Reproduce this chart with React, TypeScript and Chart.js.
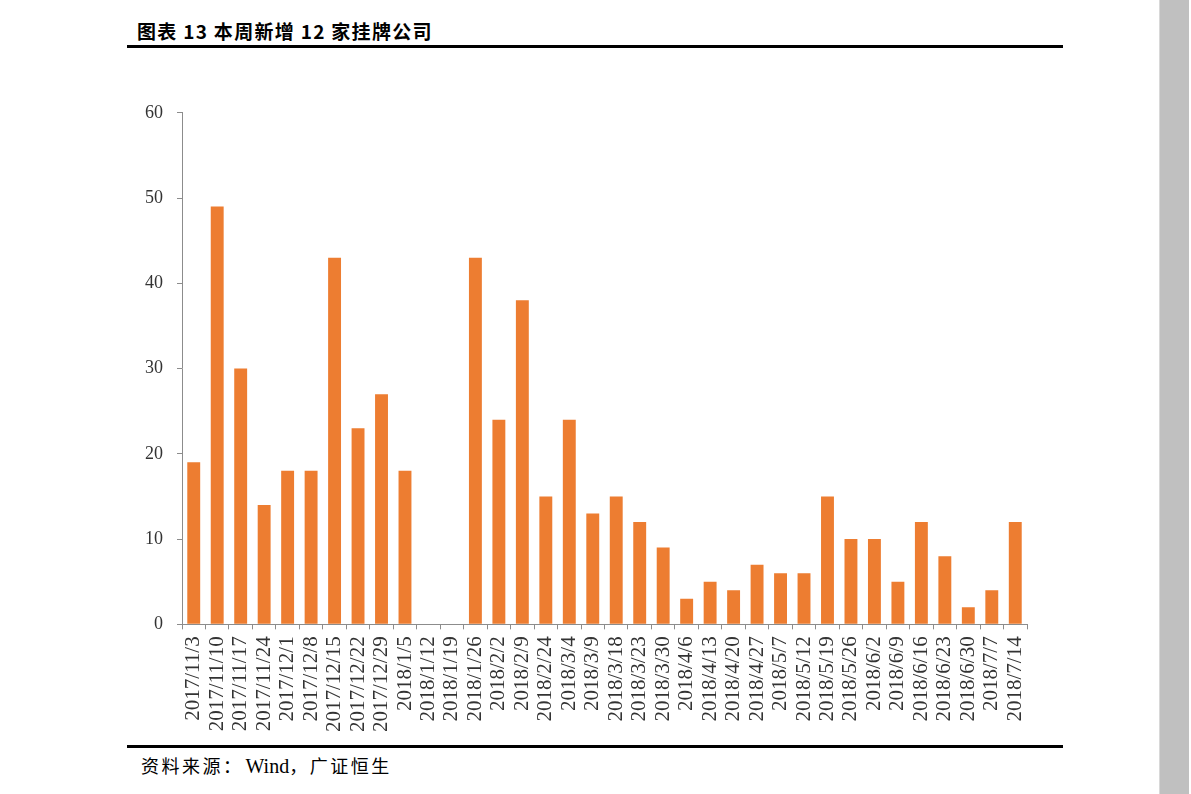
import React, { useEffect, useRef } from "react";
import { Chart, registerables } from "chart.js";

Chart.register(...registerables);

const categories = [
  "2017/11/3", "2017/11/10", "2017/11/17", "2017/11/24", "2017/12/1", "2017/12/8",
  "2017/12/15", "2017/12/22", "2017/12/29", "2018/1/5", "2018/1/12", "2018/1/19",
  "2018/1/26", "2018/2/2", "2018/2/9", "2018/2/24", "2018/3/4", "2018/3/9",
  "2018/3/18", "2018/3/23", "2018/3/30", "2018/4/6", "2018/4/13", "2018/4/20",
  "2018/4/27", "2018/5/7", "2018/5/12", "2018/5/19", "2018/5/26", "2018/6/2",
  "2018/6/9", "2018/6/16", "2018/6/23", "2018/6/30", "2018/7/7", "2018/7/14",
];

const newListings = [
  19, 49, 30, 14, 18, 18, 43, 23, 27, 18, 0, 0,
  43, 24, 38, 15, 24, 13, 15, 12, 9, 3, 5, 4,
  7, 6, 6, 15, 10, 10, 5, 12, 8, 2, 4, 12,
];

const yTicks = [0, 10, 20, 30, 40, 50, 60];

const title = "图表 13 本周新增 12 家挂牌公司";
const sourcePrefix = "资料来源：";
const sourceWind = "Wind";
const sourceSuffix = "，广证恒生";

export default function App() {
  const ref = useRef<HTMLCanvasElement | null>(null);

  useEffect(() => {
    if (!ref.current) return;
    const axisColor = "#8c8c8c";
    const chart = new Chart(ref.current, {
      type: "bar",
      data: {
        labels: categories,
        datasets: [
          {
            data: newListings,
            backgroundColor: "#ED7D31",
            borderWidth: 0,
            barPercentage: 0.55,
            categoryPercentage: 1,
          },
        ],
      },
      options: {
        animation: false,
        responsive: false,
        maintainAspectRatio: false,
        layout: { padding: { left: 1, right: 33, top: 3, bottom: 2 } },
        plugins: { legend: { display: false }, tooltip: { enabled: false } },
        scales: {
          x: {
            grid: {
              display: true,
              drawOnChartArea: false,
              drawTicks: true,
              tickLength: 5,
              color: axisColor,
              offset: true,
            },
            border: { display: true, color: axisColor, width: 1 },
            ticks: {
              autoSkip: false,
              maxRotation: 90,
              minRotation: 90,
              padding: 7,
              color: "#333333",
              font: { family: "'Liberation Serif', serif", size: 21 },
            },
          },
          y: {
            min: 0,
            max: 60,
            afterBuildTicks: (axis: any) => {
              axis.ticks = yTicks.map((v) => ({ value: v }));
            },
            grid: {
              display: true,
              drawOnChartArea: false,
              drawTicks: true,
              tickLength: 5,
              color: axisColor,
            },
            border: { display: true, color: axisColor, width: 1 },
            ticks: {
              padding: 14,
              color: "#333333",
              font: { family: "'Liberation Serif', serif", size: 18 },
            },
          },
        },
      },
    });
    return () => chart.destroy();
  }, []);

  const cjk: React.CSSProperties = {
    fontFamily: "'Noto Sans CJK SC', sans-serif",
    fontSize: 18,
    letterSpacing: 2.5,
  };

  return (
    <div
      style={{
        position: "absolute",
        left: 0,
        top: 0,
        width: 1191,
        height: 794,
        background: "#ffffff",
        overflow: "hidden",
      }}
    >
      <div
        style={{
          position: "absolute",
          left: 137,
          top: 17,
          fontFamily: "'Noto Sans CJK SC', sans-serif",
          fontWeight: 700,
          fontSize: 19,
          color: "#000",
          whiteSpace: "nowrap",
          letterSpacing: 1.3,
        }}
      >
        {title}
      </div>
      <div
        style={{
          position: "absolute",
          left: 127,
          top: 45,
          width: 936,
          height: 3,
          background: "#000",
        }}
      />
      <div
        style={{
          position: "absolute",
          left: 127,
          top: 745,
          width: 936,
          height: 3,
          background: "#000",
        }}
      />
      <div
        style={{
          position: "absolute",
          left: 141,
          top: 752,
          color: "#000",
          whiteSpace: "nowrap",
          lineHeight: "26px",
        }}
      >
        <span style={cjk}>{sourcePrefix}</span>
        <span style={{ fontFamily: "'Liberation Serif', serif", fontSize: 20, marginLeft: 2 }}>
          {sourceWind}
        </span>
        <span style={cjk}>{sourceSuffix}</span>
      </div>
      <div
        style={{
          position: "absolute",
          left: 1159,
          top: 0,
          width: 29,
          height: 794,
          background: "#c0c0c0",
          borderLeft: "1px solid #d8d8d8",
        }}
      />
      <canvas
        ref={ref}
        width={930}
        height={653}
        style={{ position: "absolute", left: 130, top: 88, width: 930, height: 653 }}
      />
    </div>
  );
}
